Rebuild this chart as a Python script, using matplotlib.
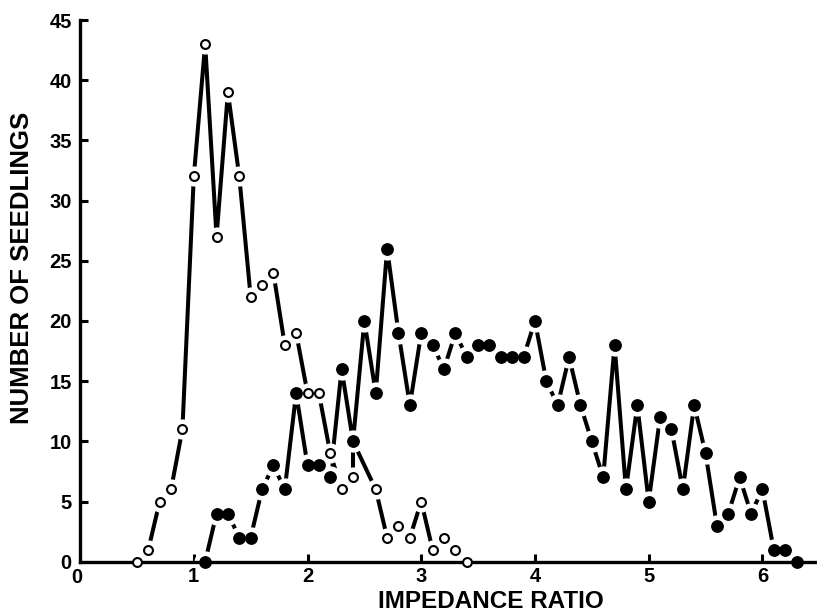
"""Seedling counts against impedance ratio, two groups."""

import matplotlib

matplotlib.use("Agg")
import matplotlib.pyplot as plt

plt.rcParams["font.family"] = ["Liberation Sans", "DejaVu Sans"]
plt.rcParams["font.weight"] = "bold"

# open circles
open_ratio = [0.5, 0.6, 0.7, 0.8, 0.9, 1.0, 1.1, 1.2, 1.3, 1.4, 1.5, 1.6, 1.7,
              1.8, 1.9, 2.0, 2.1, 2.2, 2.3, 2.4, 2.4, 2.6, 2.7, 2.8, 2.9, 3.0,
              3.1, 3.2, 3.3, 3.4]
open_count = [0, 1, 5, 6, 11, 32, 43, 27, 39, 32, 22, 23, 24,
              18, 19, 14, 14, 9, 6, 7, 10, 6, 2, 3, 2, 5,
              1, 2, 1, 0]

# filled circles
filled_ratio = [1.1, 1.2, 1.3, 1.4, 1.5, 1.6, 1.7, 1.8, 1.9, 2.0, 2.1, 2.2,
                2.3, 2.4, 2.5, 2.6, 2.7, 2.8, 2.9, 3.0, 3.1, 3.2, 3.3, 3.4,
                3.5, 3.6, 3.7, 3.8, 3.9, 4.0, 4.1, 4.2, 4.3, 4.4, 4.5, 4.6,
                4.7, 4.8, 4.9, 5.0, 5.1, 5.2, 5.3, 5.4, 5.5, 5.6, 5.7, 5.8,
                5.9, 6.0, 6.1, 6.2, 6.3]
filled_count = [0, 4, 4, 2, 2, 6, 8, 6, 14, 8, 8, 7,
                16, 10, 20, 14, 26, 19, 13, 19, 18, 16, 19, 17,
                18, 18, 17, 17, 17, 20, 15, 13, 17, 13, 10, 7,
                18, 6, 13, 5, 12, 11, 6, 13, 9, 3, 4, 7,
                4, 6, 1, 1, 0]

x_ticks = [1, 2, 3, 4, 5, 6]
x_tick_labels = ["1", "2", "3", "4", "5", "6"]
y_ticks = [0, 5, 10, 15, 20, 25, 30, 35, 40, 45]


fig = plt.figure(figsize=(8.17, 6.14), dpi=100)
ax = fig.add_axes([0.098, 0.0852, 0.902, 0.8822])

line_kw = dict(color="black", linewidth=2.9, solid_capstyle="butt", zorder=2)
ax.plot(open_ratio, open_count, **line_kw)
ax.plot(filled_ratio, filled_count, **line_kw)

# white halos leave the small gaps between lines and markers
ax.plot(open_ratio, open_count, linestyle="none", marker="o", markersize=13.5,
        markerfacecolor="white", markeredgecolor="white", zorder=3)
ax.plot(filled_ratio, filled_count, linestyle="none", marker="o", markersize=15,
        markerfacecolor="white", markeredgecolor="white", zorder=3)

ax.plot(open_ratio, open_count, linestyle="none", marker="o", markersize=6.4,
        markerfacecolor="white", markeredgecolor="black", markeredgewidth=1.5,
        zorder=4, clip_on=False)
ax.plot(filled_ratio, filled_count, linestyle="none", marker="o", markersize=8.2,
        markerfacecolor="black", markeredgecolor="black", zorder=5,
        clip_on=False)

ax.set_xlim(0, 6.48)
ax.set_ylim(0, 45)
ax.set_xticks(x_ticks)
ax.set_xticklabels(x_tick_labels)
ax.set_yticks(y_ticks)

for side in ["top", "right"]:
    ax.spines[side].set_visible(False)
for side in ["left", "bottom"]:
    ax.spines[side].set_linewidth(2.4)
    ax.spines[side].set_capstyle("projecting")
    # keep the axis lines above the white halos
    ax.spines[side].set_zorder(3.5)

ax.tick_params(axis="both", direction="in", length=6, width=2.2,
               labelsize=14.5)
ax.tick_params(axis="y", pad=6)
ax.tick_params(axis="x", pad=4)
for label in ax.get_xticklabels() + ax.get_yticklabels():
    label.set_fontweight("bold")

# lone zero under the origin
ax.text(-0.03, -0.012, "0", transform=ax.get_xaxis_transform(), ha="center",
        va="top", fontsize=14.5, fontweight="bold")

ax.set_xlabel("IMPEDANCE RATIO", fontsize=17.5, fontweight="bold")
ax.xaxis.set_label_coords(0.558, -0.086)
ax.xaxis.label.set_va("baseline")
ax.set_ylabel("NUMBER OF SEEDLINGS", fontsize=18.5, fontweight="bold")
ax.yaxis.set_label_coords(-0.079, 0.543)
ax.yaxis.label.set_va("center")

fig.savefig("out.png", dpi=100)
plt.close(fig)
